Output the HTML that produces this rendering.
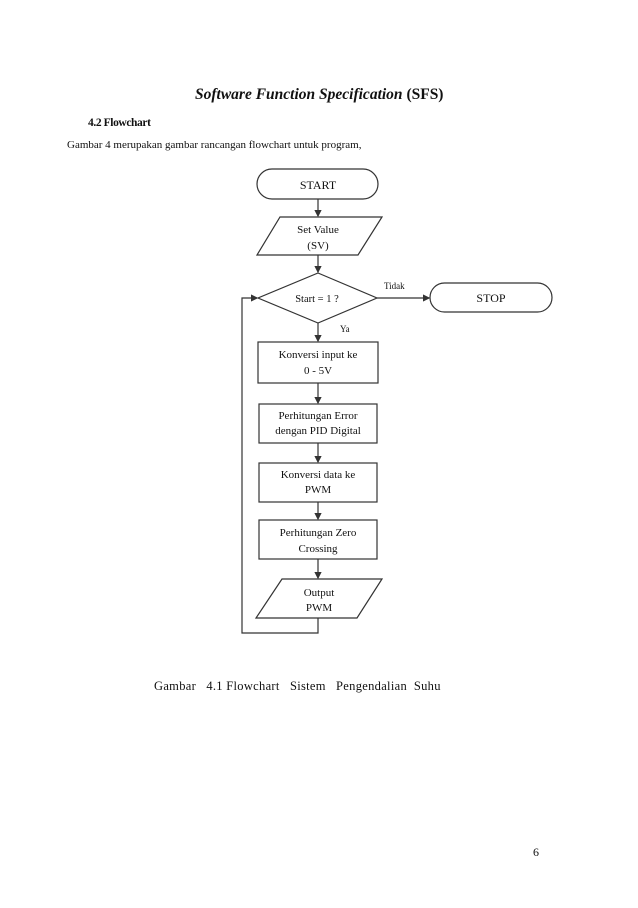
<!DOCTYPE html>
<html><head><meta charset="utf-8"><style>
body{margin:0;background:#fff;}
svg text{font-family:"Liberation Serif",serif;fill:#111;}
</style></head><body>
<svg width="638" height="903" xmlns="http://www.w3.org/2000/svg">
<defs><marker id="a" markerWidth="6" markerHeight="6" refX="5" refY="3" orient="auto"><path d="M0,0 L6,3 L0,6 z" fill="#333"/></marker></defs>
<text x="195" y="99" font-size="15.5" font-weight="bold" font-style="italic">Software Function Specification <tspan font-style="normal">(SFS)</tspan></text>
<text x="88" y="126" font-size="11.5" font-weight="bold" letter-spacing="-0.4">4.2  Flowchart</text>
<text x="67" y="148" font-size="11" letter-spacing="0">Gambar 4 merupakan gambar rancangan flowchart untuk program,</text>
<g stroke="#333" stroke-width="1.2" fill="none">
<rect x="257" y="169" width="121" height="30" rx="15"/>
<polygon points="280,217 382,217 358,255 257,255"/>
<polygon points="318,273 377,298 318,323 258,298"/>
<rect x="430" y="283" width="122" height="29" rx="14.5"/>
<rect x="258" y="342" width="120" height="41"/>
<rect x="259" y="404" width="118" height="39"/>
<rect x="259" y="463" width="118" height="39"/>
<rect x="259" y="520" width="118" height="39"/>
<polygon points="282,579 382,579 357,618 256,618"/>
<line x1="318" y1="199" x2="318" y2="216" marker-end="url(#a)"/>
<line x1="318" y1="255" x2="318" y2="272" marker-end="url(#a)"/>
<line x1="377" y1="298" x2="429" y2="298" marker-end="url(#a)"/>
<line x1="318" y1="323" x2="318" y2="341" marker-end="url(#a)"/>
<line x1="318" y1="383" x2="318" y2="403" marker-end="url(#a)"/>
<line x1="318" y1="443" x2="318" y2="462" marker-end="url(#a)"/>
<line x1="318" y1="502" x2="318" y2="519" marker-end="url(#a)"/>
<line x1="318" y1="559" x2="318" y2="578" marker-end="url(#a)"/>
<polyline points="318,618 318,633 242,633 242,298 257,298" marker-end="url(#a)"/>
</g>
<g font-size="12" text-anchor="middle">
<text x="318" y="189">START</text>
<text x="318" y="233" font-size="11">Set Value</text>
<text x="318" y="249" font-size="11">(SV)</text>
<text x="317" y="302" font-size="10.5">Start = 1 ?</text>
<text x="491" y="302">STOP</text>
<text x="318" y="358" font-size="11">Konversi input ke</text>
<text x="318" y="374" font-size="11">0 - 5V</text>
<text x="318" y="419" font-size="11">Perhitungan Error</text>
<text x="318" y="434" font-size="11">dengan PID Digital</text>
<text x="318" y="478" font-size="11">Konversi data ke</text>
<text x="318" y="493" font-size="11">PWM</text>
<text x="318" y="536" font-size="11">Perhitungan Zero</text>
<text x="318" y="552" font-size="11">Crossing</text>
<text x="319" y="596" font-size="11">Output</text>
<text x="319" y="611" font-size="11">PWM</text>
</g>
<text x="384" y="289" font-size="9">Tidak</text>
<text x="340" y="332" font-size="9">Ya</text>
<text x="154" y="690" font-size="12.5" letter-spacing="0.3" xml:space="preserve">Gambar   4.1 Flowchart   Sistem   Pengendalian  Suhu</text>
<text x="533" y="856" font-size="12">6</text>
</svg>
</body></html>
